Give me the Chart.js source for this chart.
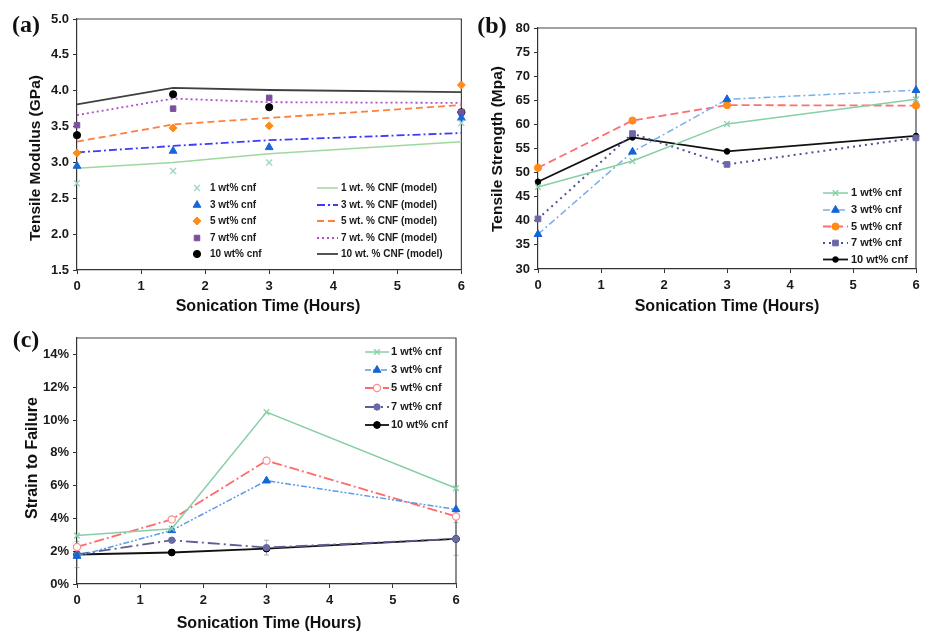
<!DOCTYPE html>
<html><head><meta charset="utf-8">
<script src="https://cdn.jsdelivr.net/npm/chart.js@4.4.1/dist/chart.umd.min.js"></script>
<style>
html,body{margin:0;padding:0;background:#fff;}
body{width:926px;height:634px;position:relative;overflow:hidden;font-family:'Liberation Sans',Arial,sans-serif;}
canvas{position:absolute;}
.t{position:absolute;white-space:nowrap;line-height:1;font-weight:bold;color:#111;transform:translate(-50%,-50%);}
.ty{transform:translate(-50%,-50%) rotate(-90deg);}
.pl{font-family:'Liberation Serif','Times New Roman',serif;font-size:24px;}
</style></head><body>
<canvas id="cA" width="470" height="320" style="left:0;top:0"></canvas>
<canvas id="cB" width="456" height="320" style="left:470px;top:0"></canvas>
<canvas id="cC" width="470" height="324" style="left:0;top:310px"></canvas>

<div class="t pl" style="left:26px;top:24px">(a)</div>
<div class="t pl" style="left:492px;top:25px">(b)</div>
<div class="t pl" style="left:26px;top:339px">(c)</div>

<div class="t ty" style="left:35px;top:158px;font-size:15.5px">Tensile Modulus (GPa)</div>
<div class="t" style="left:268px;top:306px;font-size:16px">Sonication Time (Hours)</div>
<div class="t ty" style="left:497px;top:149px;font-size:15.5px">Tensile Strength (Mpa)</div>
<div class="t" style="left:727px;top:306px;font-size:16px">Sonication Time (Hours)</div>
<div class="t ty" style="left:32px;top:458px;font-size:16px">Strain to Failure</div>
<div class="t" style="left:269px;top:623px;font-size:16px">Sonication Time (Hours)</div>

<script>
// ---------------- DATA ----------------
const hours = [0, 1.5, 3, 6];
const xTicks = [0, 1, 2, 3, 4, 5, 6];
const seriesNames = ['1 wt% cnf', '3 wt% cnf', '5 wt% cnf', '7 wt% cnf', '10 wt% cnf'];
const modelNames = ['1 wt. % CNF (model)', '3 wt. % CNF (model)', '5 wt. % CNF (model)', '7 wt. % CNF (model)', '10 wt. % CNF (model)'];

// (a) Tensile modulus (GPa) - measured
const modulus1 = [2.71, 2.88, 3.00, 3.55];
const modulus3 = [2.95, 3.16, 3.21, 3.62];
const modulus5 = [3.13, 3.48, 3.51, 4.08];
const modulus7 = [3.52, 3.75, 3.90, 3.70];
const modulus10 = [3.38, 3.95, 3.77, 3.70];
// (a) Tensile modulus (GPa) - model
const model1 = [2.92, 3.00, 3.12, 3.29];
const model3 = [3.14, 3.23, 3.31, 3.41];
const model5 = [3.29, 3.53, 3.62, 3.80];
const model7 = [3.66, 3.89, 3.84, 3.83];
const model10 = [3.81, 4.04, 4.01, 3.98];
const modulusTicks = [1.5, 2.0, 2.5, 3.0, 3.5, 4.0, 4.5, 5.0];

// (b) Tensile strength (MPa)
const strength1 = [47.0, 52.4, 60.1, 65.2];
const strength3 = [37.2, 54.3, 65.2, 67.1];
const strength5 = [51.0, 60.8, 64.0, 63.9];
const strength7 = [40.4, 58.1, 51.7, 57.2];
const strength10 = [48.1, 57.3, 54.4, 57.6];
const strengthTicks = [30, 35, 40, 45, 50, 55, 60, 65, 70, 75, 80];

// (c) Strain to failure (%)
const strain1 = [2.95, 3.37, 10.48, 5.84];
const strain3 = [1.70, 3.27, 6.30, 4.55];
const strain5 = [2.26, 3.94, 7.52, 4.12];
const strain7 = [1.80, 2.67, 2.22, 2.75];
const strain10 = [1.80, 1.92, 2.16, 2.75];
// (c) error bars (± %) for the 7 wt% series (estimated, faint in the original)
const strainErr7 = [0.8, 0.15, 0.45, 1.0];
const strainTicks = [0, 2, 4, 6, 8, 10, 12, 14];

// ---------------- HELPERS ----------------
const FONT = "'Liberation Sans', Arial, sans-serif";
const pts = arr => hours.map((h, i) => ({x: h, y: arr[i]}));

function scalesFor(c) {
  return {
    x: {
      type: 'linear', min: 0, max: 6,
      afterBuildTicks: s => { s.ticks = xTicks.map(v => ({value: v})); },
      afterFit: s => { s.height = c.xh; },
      ticks: {color: '#1a1a1a', font: {family: FONT, size: 13, weight: 'bold'}, padding: 5, maxRotation: 0, autoSkip: false},
      grid: {display: true, drawOnChartArea: false, drawTicks: true, tickLength: 4, color: '#333', lineWidth: 1},
      border: {display: true, color: '#333', width: 1.2}
    },
    y: {
      type: 'linear', min: c.min, max: c.max,
      afterBuildTicks: s => { s.ticks = c.ticks.map(v => ({value: v})); },
      afterFit: s => { s.width = c.yw; },
      ticks: {color: '#1a1a1a', font: {family: FONT, size: 13, weight: 'bold'}, padding: 4, autoSkip: false, callback: v => c.fmt(v)},
      grid: {display: true, drawOnChartArea: false, drawTicks: true, tickLength: 4, color: '#333', lineWidth: 1},
      border: {display: true, color: '#333', width: 1.2}
    }
  };
}

function drawMarker(ctx, ds, x, y) {
  ctx.save();
  ctx.setLineDash([]);
  ctx.fillStyle = ds.pointBackgroundColor;
  ctx.strokeStyle = ds.pointBorderColor;
  ctx.lineWidth = ds.pointBorderWidth || 1;
  const o = {pointStyle: ds.pointStyle, radius: ds.pointRadius, rotation: 0, borderWidth: ds.pointBorderWidth || 1};
  if (Chart.helpers && Chart.helpers.drawPoint) {
    Chart.helpers.drawPoint(ctx, o, x, y);
  } else {
    ctx.beginPath(); ctx.arc(x, y, ds.pointRadius, 0, Math.PI * 2); ctx.fill(); ctx.stroke();
  }
  ctx.restore();
}

const boxLegend = {
  id: 'boxLegend',
  beforeDatasetsDraw(chart, args, opts) {
    const {ctx, chartArea: a} = chart;
    ctx.save();
    ctx.strokeStyle = '#444'; ctx.lineWidth = 1.2;
    ctx.beginPath();
    ctx.moveTo(a.left, a.top); ctx.lineTo(a.right, a.top); ctx.lineTo(a.right, a.bottom);
    ctx.stroke();
    // error bars through the library's scales
    (opts.errors || []).forEach(e => {
      const ds = chart.data.datasets[e.ds];
      ctx.strokeStyle = 'rgba(120,120,140,0.55)'; ctx.lineWidth = 1;
      ds.data.forEach((p, i) => {
        const err = e.values[i];
        if (!err) return;
        const x = chart.scales.x.getPixelForValue(p.x);
        const y0 = chart.scales.y.getPixelForValue(p.y - err);
        const y1 = chart.scales.y.getPixelForValue(p.y + err);
        ctx.beginPath();
        ctx.moveTo(x, y0); ctx.lineTo(x, y1);
        ctx.moveTo(x - 2.5, y0); ctx.lineTo(x + 2.5, y0);
        ctx.moveTo(x - 2.5, y1); ctx.lineTo(x + 2.5, y1);
        ctx.stroke();
      });
    });
    ctx.restore();
  },
  afterDraw(chart, args, opts) {
    const ctx = chart.ctx;
    ctx.save();
    ctx.font = 'bold ' + opts.size + 'px ' + FONT;
    ctx.textBaseline = 'middle'; ctx.textAlign = 'left';
    (opts.items || []).forEach(it => {
      const ds = chart.data.datasets[it.ds];
      if (it.x1 !== undefined) {
        ctx.save();
        ctx.strokeStyle = ds.borderColor; ctx.lineWidth = ds.borderWidth;
        ctx.setLineDash(ds.borderDash || []);
        ctx.beginPath(); ctx.moveTo(it.x0, it.y); ctx.lineTo(it.x1, it.y); ctx.stroke();
        ctx.restore();
      }
      if (it.mx !== undefined) drawMarker(ctx, ds, it.mx, it.y);
      ctx.fillStyle = '#1a1a1a';
      ctx.fillText(ds.label, it.tx, it.y);
    });
    ctx.restore();
  }
};

function pointSet(label, data, style, r, fill, border, bw) {
  return {label, data: pts(data), showLine: false, pointStyle: style, pointRadius: r, pointHoverRadius: r,
    pointBackgroundColor: fill, pointBorderColor: border, pointBorderWidth: bw, borderColor: border, clip: false};
}
function lineSet(label, data, color, width, dash, style, r, fill, border, bw) {
  return {label, data: pts(data), showLine: true, borderColor: color, borderWidth: width, borderDash: dash,
    tension: 0, pointStyle: style || 'circle', pointRadius: r || 0, pointHoverRadius: r || 0,
    pointBackgroundColor: fill || color, pointBorderColor: border || fill || color, pointBorderWidth: bw || 1, clip: false};
}

Chart.defaults.font.family = FONT;

// ---------------- CHART A ----------------
const rowsA = [188, 205, 221, 238, 254];
new Chart(document.getElementById('cA'), {
  type: 'line',
  data: {datasets: [
    pointSet(seriesNames[0], modulus1, 'crossRot', 4.2, '#a3d5c6', '#a3d5c6', 1.4),
    pointSet(seriesNames[1], modulus3, 'triangle', 4.5, '#1a66d6', '#1a66d6', 1),
    pointSet(seriesNames[2], modulus5, 'rectRot', 4, '#ff8c1a', '#ff8c1a', 1),
    pointSet(seriesNames[3], modulus7, 'rect', 3.9, '#7b4f9d', '#7b4f9d', 1),
    pointSet(seriesNames[4], modulus10, 'circle', 3.6, '#000', '#000', 1),
    lineSet(modelNames[0], model1, '#9fd89f', 1.5, []),
    lineSet(modelNames[1], model3, '#3c3cff', 1.8, [8, 3, 2, 3]),
    lineSet(modelNames[2], model5, '#ff7f3f', 1.8, [7, 4]),
    lineSet(modelNames[3], model7, '#b050c8', 1.8, [2, 3]),
    lineSet(modelNames[4], model10, '#404040', 1.8, [])
  ]},
  options: {
    responsive: false, animation: false, events: [],
    layout: {padding: {left: 0, top: 19, right: 6, bottom: 0}},
    scales: scalesFor({min: 1.5, max: 5, ticks: modulusTicks, fmt: v => v.toFixed(1), yw: 77, xh: 50}),
    plugins: {
      legend: {display: false}, tooltip: {enabled: false},
      boxLegend: {size: 10, items: [
        ...rowsA.map((y, i) => ({ds: i, y, mx: 197, tx: 210})),
        ...rowsA.map((y, i) => ({ds: 5 + i, y, x0: 317, x1: 338, tx: 341}))
      ]}
    }
  },
  plugins: [boxLegend]
});

// ---------------- CHART B ----------------
const rowsB = [193, 210, 226.5, 243, 259.5];
new Chart(document.getElementById('cB'), {
  type: 'line',
  data: {datasets: [
    lineSet(seriesNames[0], strength1, '#86cfa6', 1.5, [], 'crossRot', 4, '#86cfa6', '#86cfa6', 1.3),
    lineSet(seriesNames[1], strength3, '#79aeea', 1.5, [7, 3, 2, 3], 'triangle', 4.5, '#1464d8', '#1464d8', 1),
    lineSet(seriesNames[2], strength5, '#ff6f6f', 1.8, [8, 4], 'circle', 3.6, '#ff8c1a', '#ff8c1a', 1),
    lineSet(seriesNames[3], strength7, '#4f4f96', 2, [2, 4], 'rect', 4, '#6b68a8', '#6b68a8', 1),
    lineSet(seriesNames[4], strength10, '#111', 1.8, [], 'circle', 2.8, '#000', '#000', 1)
  ]},
  options: {
    responsive: false, animation: false, events: [],
    layout: {padding: {left: 0, top: 28, right: 10, bottom: 0}},
    scales: scalesFor({min: 30, max: 80, ticks: strengthTicks, fmt: v => String(v), yw: 68, xh: 51}),
    plugins: {
      legend: {display: false}, tooltip: {enabled: false},
      boxLegend: {size: 11, items: rowsB.map((y, i) => ({ds: i, y, x0: 353, x1: 378, mx: 365.5, tx: 381}))}
    }
  },
  plugins: [boxLegend]
});

// ---------------- CHART C ----------------
const rowsC = [42, 60, 78, 97, 115];
new Chart(document.getElementById('cC'), {
  type: 'line',
  data: {datasets: [
    lineSet(seriesNames[0], strain1, '#86cfa6', 1.5, [], 'crossRot', 4, '#86cfa6', '#86cfa6', 1.3),
    lineSet(seriesNames[1], strain3, '#5c9ae6', 1.5, [6, 2, 2, 2, 2, 2], 'triangle', 4.5, '#1464d8', '#1464d8', 1),
    lineSet(seriesNames[2], strain5, '#ff6b6b', 1.8, [10, 3, 2, 3], 'circle', 3.6, '#ffffff', '#ff8a8a', 1.2),
    lineSet(seriesNames[3], strain7, '#5e5e96', 1.8, [12, 4, 2, 4], 'circle', 3.2, '#6a6aa5', '#6a6aa5', 1),
    lineSet(seriesNames[4], strain10, '#111', 1.8, [], 'circle', 3.4, '#000', '#000', 1)
  ]},
  options: {
    responsive: false, animation: false, events: [],
    layout: {padding: {left: 0, top: 28, right: 14, bottom: 0}},
    scales: scalesFor({min: 0, max: 15, ticks: strainTicks, fmt: v => v + '%', yw: 77, xh: 50}),
    plugins: {
      legend: {display: false}, tooltip: {enabled: false},
      boxLegend: {size: 11,
        errors: [{ds: 3, values: strainErr7}],
        items: rowsC.map((y, i) => ({ds: i, y, x0: 365, x1: 389, mx: 377, tx: 391}))}
    }
  },
  plugins: [boxLegend]
});
</script>
</body></html>
